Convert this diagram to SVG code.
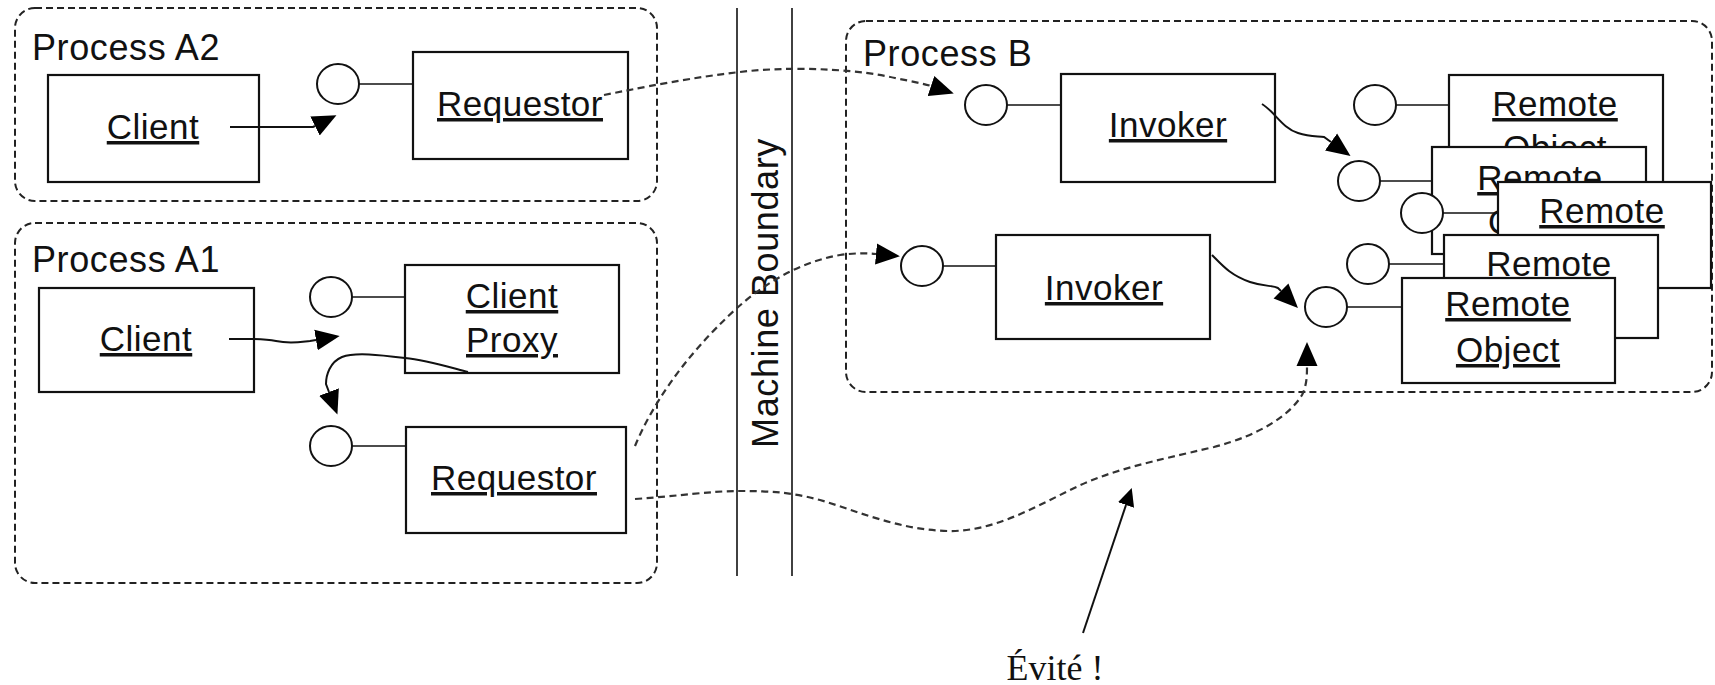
<svg xmlns="http://www.w3.org/2000/svg" width="1715" height="685" viewBox="0 0 1715 685">
<style>
.bnd{fill:none;stroke:#222;stroke-width:2;stroke-dasharray:7 4}
.box{fill:#fff;stroke:#111;stroke-width:2.2}
.port{fill:#fff;stroke:#111;stroke-width:2}
.stub{stroke:#111;stroke-width:1.6;fill:none}
.lbl{font-family:"Liberation Sans",Arial,sans-serif;font-size:36px;letter-spacing:0.6px;fill:#111}
.nm{font-family:"Liberation Sans",Arial,sans-serif;font-size:35px;letter-spacing:0.5px;fill:#111;text-anchor:middle;text-decoration:underline}
.sol{fill:none;stroke:#111;stroke-width:2;marker-end:url(#ah)}
.dsh{fill:none;stroke:#333;stroke-width:2.2;stroke-dasharray:7 4.5;marker-end:url(#ah)}
.mline{stroke:#111;stroke-width:1.6}
</style>
<defs>
<marker id="ah" viewBox="0 -11 25 22" refX="0" refY="0" markerWidth="25" markerHeight="22" markerUnits="userSpaceOnUse" orient="auto">
<path d="M0,-10.5 L24,0 L0,10.5 z" fill="#000"/>
</marker>
<marker id="ahs" viewBox="0 -9 19 18" refX="0" refY="0" markerWidth="19" markerHeight="18" markerUnits="userSpaceOnUse" orient="auto">
<path d="M0,-8.5 L18,0 L0,8.5 z" fill="#000"/>
</marker>
</defs>
<rect width="1715" height="685" fill="#fff"/>

<g id="processA2">
<rect class="bnd" x="15" y="8" width="642" height="193" rx="20"/>
<text class="lbl" x="32" y="60">Process A2</text>
</g>
<g id="processA1">
<rect class="bnd" x="15" y="223" width="642" height="360" rx="20"/>
<text class="lbl" x="32" y="272">Process A1</text>
</g>
<g id="processB">
<rect class="bnd" x="846" y="21" width="866" height="371" rx="20"/>
<text class="lbl" x="863" y="66">Process B</text>
</g>

<g id="machineBoundary">
<line class="mline" x1="737" y1="8" x2="737" y2="576"/>
<line class="mline" x1="792" y1="8" x2="792" y2="576"/>
<text class="lbl" text-anchor="middle" transform="translate(778,293) rotate(-90)">Machine Boundary</text>
</g>

<g id="clientA2">
<rect class="box" x="48" y="75" width="211" height="107"/>
<text class="nm" x="153" y="139">Client</text>
</g>
<g id="requestorA2">
<line class="stub" x1="359" y1="84" x2="413" y2="84"/>
<ellipse class="port" cx="338" cy="84" rx="21" ry="20"/>
<rect class="box" x="413" y="52" width="215" height="107"/>
<text class="nm" x="520" y="116">Requestor</text>
</g>

<g id="clientA1">
<rect class="box" x="39" y="288" width="215" height="104"/>
<text class="nm" x="146" y="351">Client</text>
</g>
<g id="clientProxy">
<line class="stub" x1="352" y1="297" x2="405" y2="297"/>
<ellipse class="port" cx="331" cy="297" rx="21" ry="20"/>
<rect class="box" x="405" y="265" width="214" height="108"/>
<text class="nm" x="512" y="308">Client</text>
<text class="nm" x="512" y="352">Proxy</text>
</g>
<g id="requestorA1">
<line class="stub" x1="352" y1="446" x2="406" y2="446"/>
<ellipse class="port" cx="331" cy="446" rx="21" ry="20"/>
<rect class="box" x="406" y="427" width="220" height="106"/>
<text class="nm" x="514" y="490">Requestor</text>
</g>

<g id="invokerTop">
<line class="stub" x1="1007" y1="105" x2="1061" y2="105"/>
<ellipse class="port" cx="986" cy="105" rx="21" ry="20"/>
<rect class="box" x="1061" y="74" width="214" height="108"/>
<text class="nm" x="1168" y="137">Invoker</text>
</g>
<g id="invokerBottom">
<line class="stub" x1="943" y1="266" x2="996" y2="266"/>
<ellipse class="port" cx="922" cy="266" rx="21" ry="20"/>
<rect class="box" x="996" y="235" width="214" height="104"/>
<text class="nm" x="1104" y="300">Invoker</text>
</g>

<g id="remoteObject1">
<line class="stub" x1="1396" y1="105" x2="1449" y2="105"/>
<ellipse class="port" cx="1375" cy="105" rx="21" ry="20"/>
<rect class="box" x="1449" y="75" width="214" height="108"/>
<text class="nm" x="1555" y="116">Remote</text>
<text class="nm" x="1555" y="160">Object</text>
</g>
<g id="remoteObject2">
<line class="stub" x1="1380" y1="181" x2="1432" y2="181"/>
<ellipse class="port" cx="1359" cy="181" rx="21" ry="20"/>
<rect class="box" x="1432" y="147" width="214" height="107"/>
<text class="nm" x="1540" y="190">Remote</text>
<text class="nm" x="1540" y="234">Object</text>
</g>
<g id="remoteObject3">
<line class="stub" x1="1443" y1="213" x2="1498" y2="213"/>
<ellipse class="port" cx="1422" cy="213" rx="21" ry="20"/>
<rect class="box" x="1498" y="182" width="213" height="106"/>
<text class="nm" x="1602" y="223">Remote</text>
</g>
<g id="remoteObject4">
<line class="stub" x1="1389" y1="264" x2="1444" y2="264"/>
<ellipse class="port" cx="1368" cy="264" rx="21" ry="20"/>
<rect class="box" x="1444" y="235" width="214" height="103"/>
<text class="nm" x="1549" y="276">Remote</text>
</g>
<g id="remoteObject5">
<line class="stub" x1="1347" y1="307" x2="1402" y2="307"/>
<ellipse class="port" cx="1326" cy="307" rx="21" ry="20"/>
<rect class="box" x="1402" y="278" width="213" height="105"/>
<text class="nm" x="1508" y="316">Remote</text>
<text class="nm" x="1508" y="362">Object</text>
</g>

<g id="connectors">
<path class="sol" d="M230,127 L313,127 L315,126"/>
<path class="sol" d="M229,339 C250,339 262,338 276,341 C290,344 300,342 310,341 L316,340"/>
<path class="sol" d="M468,372 C445,366 425,360 405,358 C380,355 355,352 342,357 C330,362 326,375 326,384 L329,392"/>
<path class="sol" d="M1262,104 C1275,112 1282,128 1298,133 C1310,137 1318,136 1324,137 L1331,142"/>
<path class="sol" d="M1212,255 C1222,265 1230,275 1250,282 C1265,287 1272,285 1278,288 L1281,291"/>
<path class="dsh" d="M604,95 C630,90 700,75 760,70 C810,67 860,70 895,78 C910,81 925,84 931,86"/>
<path class="dsh" d="M635,446 C650,410 680,360 737,308 C765,283 800,262 840,255 C855,253 865,253 876,254"/>
<path class="dsh" d="M635,499 C680,496 710,491 740,491 C770,491 790,492 820,500 C860,512 900,530 948,531 C990,532 1030,510 1070,490 C1110,470 1150,462 1214,447 C1260,435 1290,415 1302,395 C1307,385 1307,375 1307,366"/>
<path fill="none" stroke="#111" stroke-width="2" marker-end="url(#ahs)" d="M1083,633 L1126,505"/>
</g>

<g id="annotation">
<text x="1055" y="680" text-anchor="middle" font-family="'Liberation Serif','Times New Roman',serif" font-size="36" fill="#111">Évité !</text>
</g>
</svg>
